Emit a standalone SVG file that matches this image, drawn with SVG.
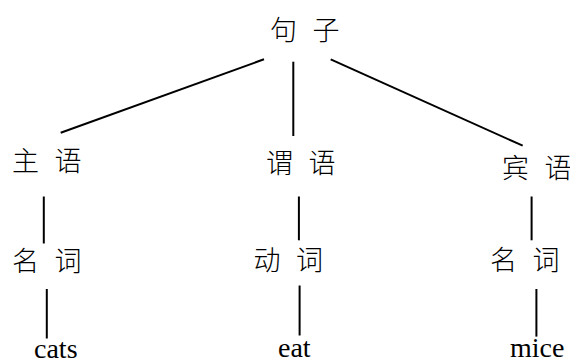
<svg xmlns="http://www.w3.org/2000/svg" width="570" height="362" viewBox="0 0 570 362">
<style>
.zh{font-family:"Noto Sans CJK SC","Noto Sans CJK JP",sans-serif;font-size:27px;font-weight:300;fill:#000}
.en{font-family:"Liberation Serif","Times New Roman",serif;font-size:28px;fill:#000}
.c{stroke:#000;stroke-width:2;fill:none}
</style>
<rect width="570" height="362" fill="#fff"/>
<g id="connectors">
<line class="c" x1="264" y1="59.3" x2="60.7" y2="132.7"/>
<line class="c" x1="293.3" y1="61.7" x2="293.3" y2="136"/>
<line class="c" x1="330.7" y1="59.3" x2="522.7" y2="145.7"/>
<line class="c" x1="43.8" y1="196.5" x2="43.8" y2="243.5"/>
<line class="c" x1="298.9" y1="196.5" x2="298.9" y2="240.3"/>
<line class="c" x1="531.6" y1="196.5" x2="531.6" y2="240.3"/>
<line class="c" x1="46.8" y1="289" x2="46.8" y2="338.5"/>
<line class="c" x1="299.6" y1="285.5" x2="299.6" y2="335.5"/>
<line class="c" x1="536.4" y1="289" x2="536.4" y2="336.6"/>
</g>
<g id="sentence"><text class="zh" x="270" y="40" textLength="69.5" lengthAdjust="spacing" xml:space="preserve">句 子</text></g>
<g id="subject"><text class="zh" x="12" y="171" textLength="69.5" lengthAdjust="spacing" xml:space="preserve">主 语</text></g>
<g id="predicate"><text class="zh" x="266" y="172.5" textLength="69.5" lengthAdjust="spacing" xml:space="preserve">谓 语</text></g>
<g id="object"><text class="zh" x="502" y="177.5" textLength="69.5" lengthAdjust="spacing" xml:space="preserve">宾 语</text></g>
<g id="noun1"><text class="zh" x="12" y="271" textLength="69.5" lengthAdjust="spacing" xml:space="preserve">名 词</text></g>
<g id="verb"><text class="zh" x="253.5" y="269.5" textLength="69.5" lengthAdjust="spacing" xml:space="preserve">动 词</text></g>
<g id="noun2"><text class="zh" x="490" y="270" textLength="69.5" lengthAdjust="spacing" xml:space="preserve">名 词</text></g>
<g id="cats"><text class="en" x="34" y="357.5">cats</text></g>
<g id="eat"><text class="en" x="278" y="357">eat</text></g>
<g id="mice"><text class="en" x="510" y="357">mice</text></g>
</svg>
